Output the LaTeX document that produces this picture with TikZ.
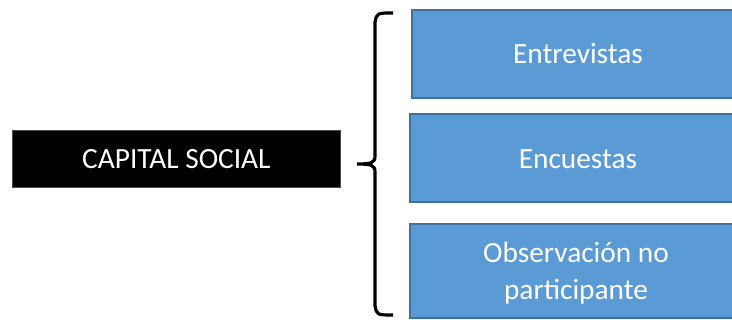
\documentclass[tikz,border=0pt]{standalone}
\usepackage{fontspec}
\setmainfont{Carlito}
\definecolor{boxblue}{HTML}{5B9BD5}
\definecolor{boxedge}{HTML}{41719C}
\begin{document}
\begin{tikzpicture}[x=0.75pt,y=-0.75pt,
  label font/.style={font=\fontsize{22}{28}\selectfont},
  methodbox/.style={rectangle, draw=boxedge, fill=boxblue, line width=1.4pt,
    text=white, label font, align=center, inner sep=0pt, anchor=north west},
  titlebox/.style={rectangle, draw=black!70, fill=black, line width=0.6pt,
    text=white, label font, inner sep=0pt, anchor=north west,
    minimum width=246pt, minimum height=42.75pt},
  bracestroke/.style={draw=black, line width=2.4pt, line cap=butt, line join=round}]
\useasboundingbox (0,0) rectangle (732,320);

% concept on the left
\node[titlebox] (capital) at (12,130) {CAPITAL SOCIAL};

% the three methods, running off the right edge
\node[methodbox, minimum width=270pt, minimum height=66pt] (entrev) at (411,9) {};
\node[label font, text=white] at (578,54) {Entrevistas};
\node[methodbox, minimum width=272pt, minimum height=66pt] (encues) at (409,113) {};
\node[label font, text=white] at (578,159) {Encuestas};
\node[methodbox, minimum width=272pt, minimum height=70.5pt] (observ) at (409,223) {};
\node[label font, text=white, align=center] at (576,273) {Observación no\\participante};

% curly brace grouping the methods
\coordinate (btop) at (393,13);
\coordinate (bbot) at (393,315);
\coordinate (btip) at (357,164);
\path[bracestroke] (btop) .. controls (377,13) .. (375,22) -- (375,156)
  .. controls (375,163) and (371,164) .. (btip)
  (btip) .. controls (371,164) and (375,165) .. (375,172) -- (375,306)
  .. controls (377,315) .. (bbot);
\end{tikzpicture}
\end{document}
